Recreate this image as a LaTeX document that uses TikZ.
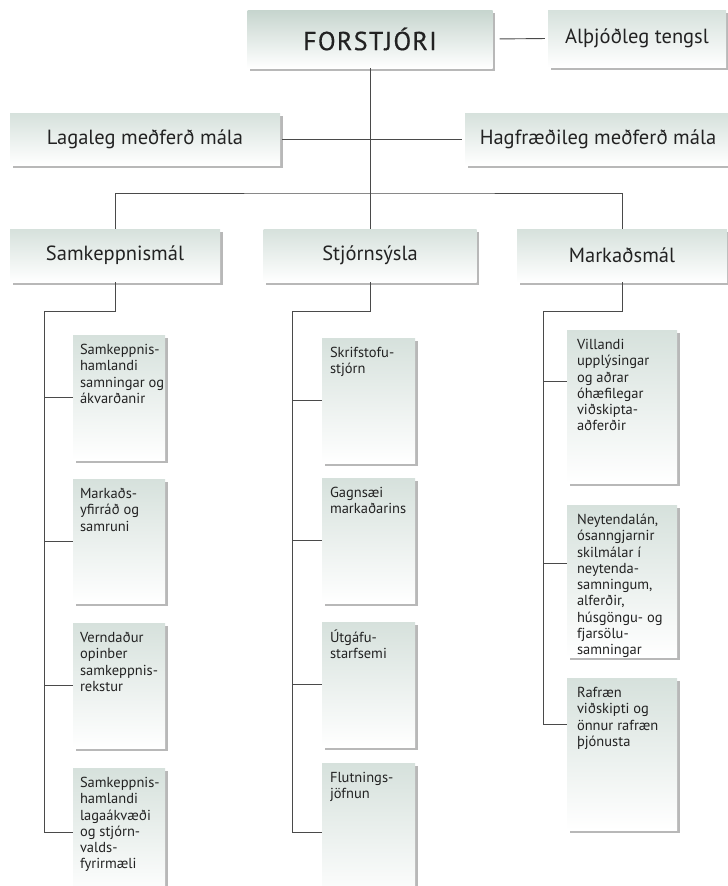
\documentclass[tikz,border=0pt]{standalone}
\usepackage{fontspec}
\setmainfont{PT Sans}
\usetikzlibrary{positioning,shadows}
\definecolor{boxtop}{HTML}{D6E1DC}
\definecolor{headtop}{HTML}{C6D5CE}
\definecolor{linegrey}{HTML}{4A4A4A}
\definecolor{txtgrey}{HTML}{222222}
\newcommand{\subtxt}[3]{\parbox[c][#1][t]{#2}{\begin{tabular}{@{}l@{}}#3\end{tabular}}}

\begin{document}
\begin{tikzpicture}
   [x=1pt,y=-1pt,every node/.style={inner sep=0pt,text=txtgrey},
    unitbox/.style={draw=none,top color=boxtop,bottom color=white,
      drop shadow={shadow xshift=2.5pt,shadow yshift=-2.5pt,fill=black,opacity=0.28},
      font=\fontsize{20.5}{24}\selectfont},
    headbox/.style={unitbox,top color=headtop,
      font=\fontsize{26}{30}\selectfont\addfontfeature{LetterSpace=5,FakeBold=0.5}},
    subbox/.style={unitbox,inner xsep=7pt,inner ysep=8pt,font=\fontsize{14.5}{16.3}\selectfont},
    orgline/.style={draw=linegrey,line width=0.9pt}]

\useasboundingbox (0,0) rectangle (728,886);
\clip (0,0) rectangle (728,886);

%%%%%%%%%%%%%%%%%%%%%%%%%%%%%%%%%%%%%%%%%%%%%%%%%%%%%%%%%%%%%%%
% Top level
%%%%%%%%%%%%%%%%%%%%%%%%%%%%%%%%%%%%%%%%%%%%%%%%%%%%%%%%%%%%%%%

\node[headbox,minimum width=245pt,minimum height=58pt] (forstj) at (370,39) {FORSTJÓRI};
\node[unitbox,minimum width=178pt,minimum height=57pt] (althj) at (637,38.5) {Alþjóðleg tengsl};

\node[unitbox,minimum width=270pt,minimum height=52pt] (lagal) at (145,139) {Lagaleg meðferð mála};
\node[unitbox,minimum width=266pt,minimum height=52pt] (hagfr) at (598,139) {Hagfræðileg meðferð mála};

\coordinate (hub) at (370,193);

%%%%%%%%%%%%%%%%%%%%%%%%%%%%%%%%%%%%%%%%%%%%%%%%%%%%%%%%%%%%%%%
% Departments
%%%%%%%%%%%%%%%%%%%%%%%%%%%%%%%%%%%%%%%%%%%%%%%%%%%%%%%%%%%%%%%

\node[unitbox,minimum width=210pt,minimum height=53pt] (samk) at (115,255.5) {Samkeppnismál};
\node[unitbox,minimum width=213pt,minimum height=53pt] (stjorn) at (370,255.5) {Stjórnsýsla};
\node[unitbox,minimum width=210pt,minimum height=53pt] (markad) at (622,255.5) {Markaðsmál};

\coordinate (lspine) at (44,311);
\coordinate (mspine) at (292,311);
\coordinate (rspine) at (543,311);

% Samkeppnismal
\node[subbox] (l1) at (119,397.5) {\subtxt{109pt}{78pt}{Samkeppnis-\\hamlandi\\samningar og\\ákvarðanir}};
\node[subbox] (l2) at (119,541) {\subtxt{108pt}{78pt}{Markaðs-\\yfirráð og\\samruni}};
\node[subbox] (l3) at (119,685.5) {\subtxt{109pt}{78pt}{Verndaður\\opinber\\samkeppnis-\\rekstur}};
\node[subbox] (l4) at (119,832) {\subtxt{112pt}{78pt}{Samkeppnis-\\hamlandi\\lagaákvæði\\og stjórn-\\valds-\\fyrirmæli}};

% Stjornsysla
\node[subbox,inner xsep=8pt] (m1) at (368.5,400.5) {\subtxt{109pt}{77pt}{Skrifstofu-\\stjórn}};
\node[subbox,inner xsep=8pt] (m2) at (368.5,540.5) {\subtxt{109pt}{77pt}{Gagnsæi\\markaðarins}};
\node[subbox,inner xsep=8pt] (m3) at (368.5,684.5) {\subtxt{109pt}{77pt}{Útgáfu-\\starfsemi}};
\node[subbox,inner xsep=8pt] (m4) at (368.5,832) {\subtxt{122pt}{77pt}{Flutnings-\\jöfnun}};

% Markadsmal
\node[subbox,inner xsep=10pt] (r1) at (622,406.5) {\subtxt{137pt}{90pt}{Villandi\\upplýsingar\\og aðrar\\óhæfilegar\\viðskipta-\\aðferðir}};
\node[subbox,inner xsep=10pt] (r2) at (622,581) {\subtxt{136pt}{90pt}{Neytendalán,\\ósanngjarnir\\skilmálar í\\neytenda-\\samningum,\\alferðir,\\húsgöngu- og\\fjarsölu-\\samningar}};
\node[subbox,inner xsep=10pt] (r3) at (622,754) {\subtxt{136pt}{90pt}{Rafræn\\viðskipti og\\önnur rafræn\\þjónusta}};

\coordinate (r1tap) at ([yshift=25.5pt]r1.west);
\coordinate (r2tap) at ([yshift=18pt]r2.west);
\coordinate (r3tap) at ([yshift=30pt]r3.west);

%%%%%%%%%%%%%%%%%%%%%%%%%%%%%%%%%%%%%%%%%%%%%%%%%%%%%%%%%%%%%%%
% Connecting lines
%%%%%%%%%%%%%%%%%%%%%%%%%%%%%%%%%%%%%%%%%%%%%%%%%%%%%%%%%%%%%%%

\draw[orgline,shorten <=7pt,shorten >=3pt] (forstj.east) -- (althj.west);
\draw[orgline] (forstj.south) -- (hub);
\draw[orgline,shorten <=2pt,shorten >=3pt] (lagal.east) -- (hagfr.west);
\draw[orgline] (samk.north) |- (hub) -| (markad.north);
\draw[orgline] (hub) -- (stjorn.north);

\draw[orgline] (samk.south) |- (lspine) -- (lspine |- l4.west) -- (l4.west);
\draw[orgline] (lspine |- l1.west) -- (l1.west);
\draw[orgline] (lspine |- l2.west) -- (l2.west);
\draw[orgline] (lspine |- l3.west) -- (l3.west);

\draw[orgline] (stjorn.south) |- (mspine) -- (mspine |- m4.west) -- (m4.west);
\draw[orgline] (mspine |- m1.west) -- (m1.west);
\draw[orgline] (mspine |- m2.west) -- (m2.west);
\draw[orgline] (mspine |- m3.west) -- (m3.west);

\draw[orgline] (markad.south) |- (rspine) -- (rspine |- r3tap) -- (r3tap);
\draw[orgline] (rspine |- r1tap) -- (r1tap);
\draw[orgline] (rspine |- r2tap) -- (r2tap);

\end{tikzpicture}
\end{document}
